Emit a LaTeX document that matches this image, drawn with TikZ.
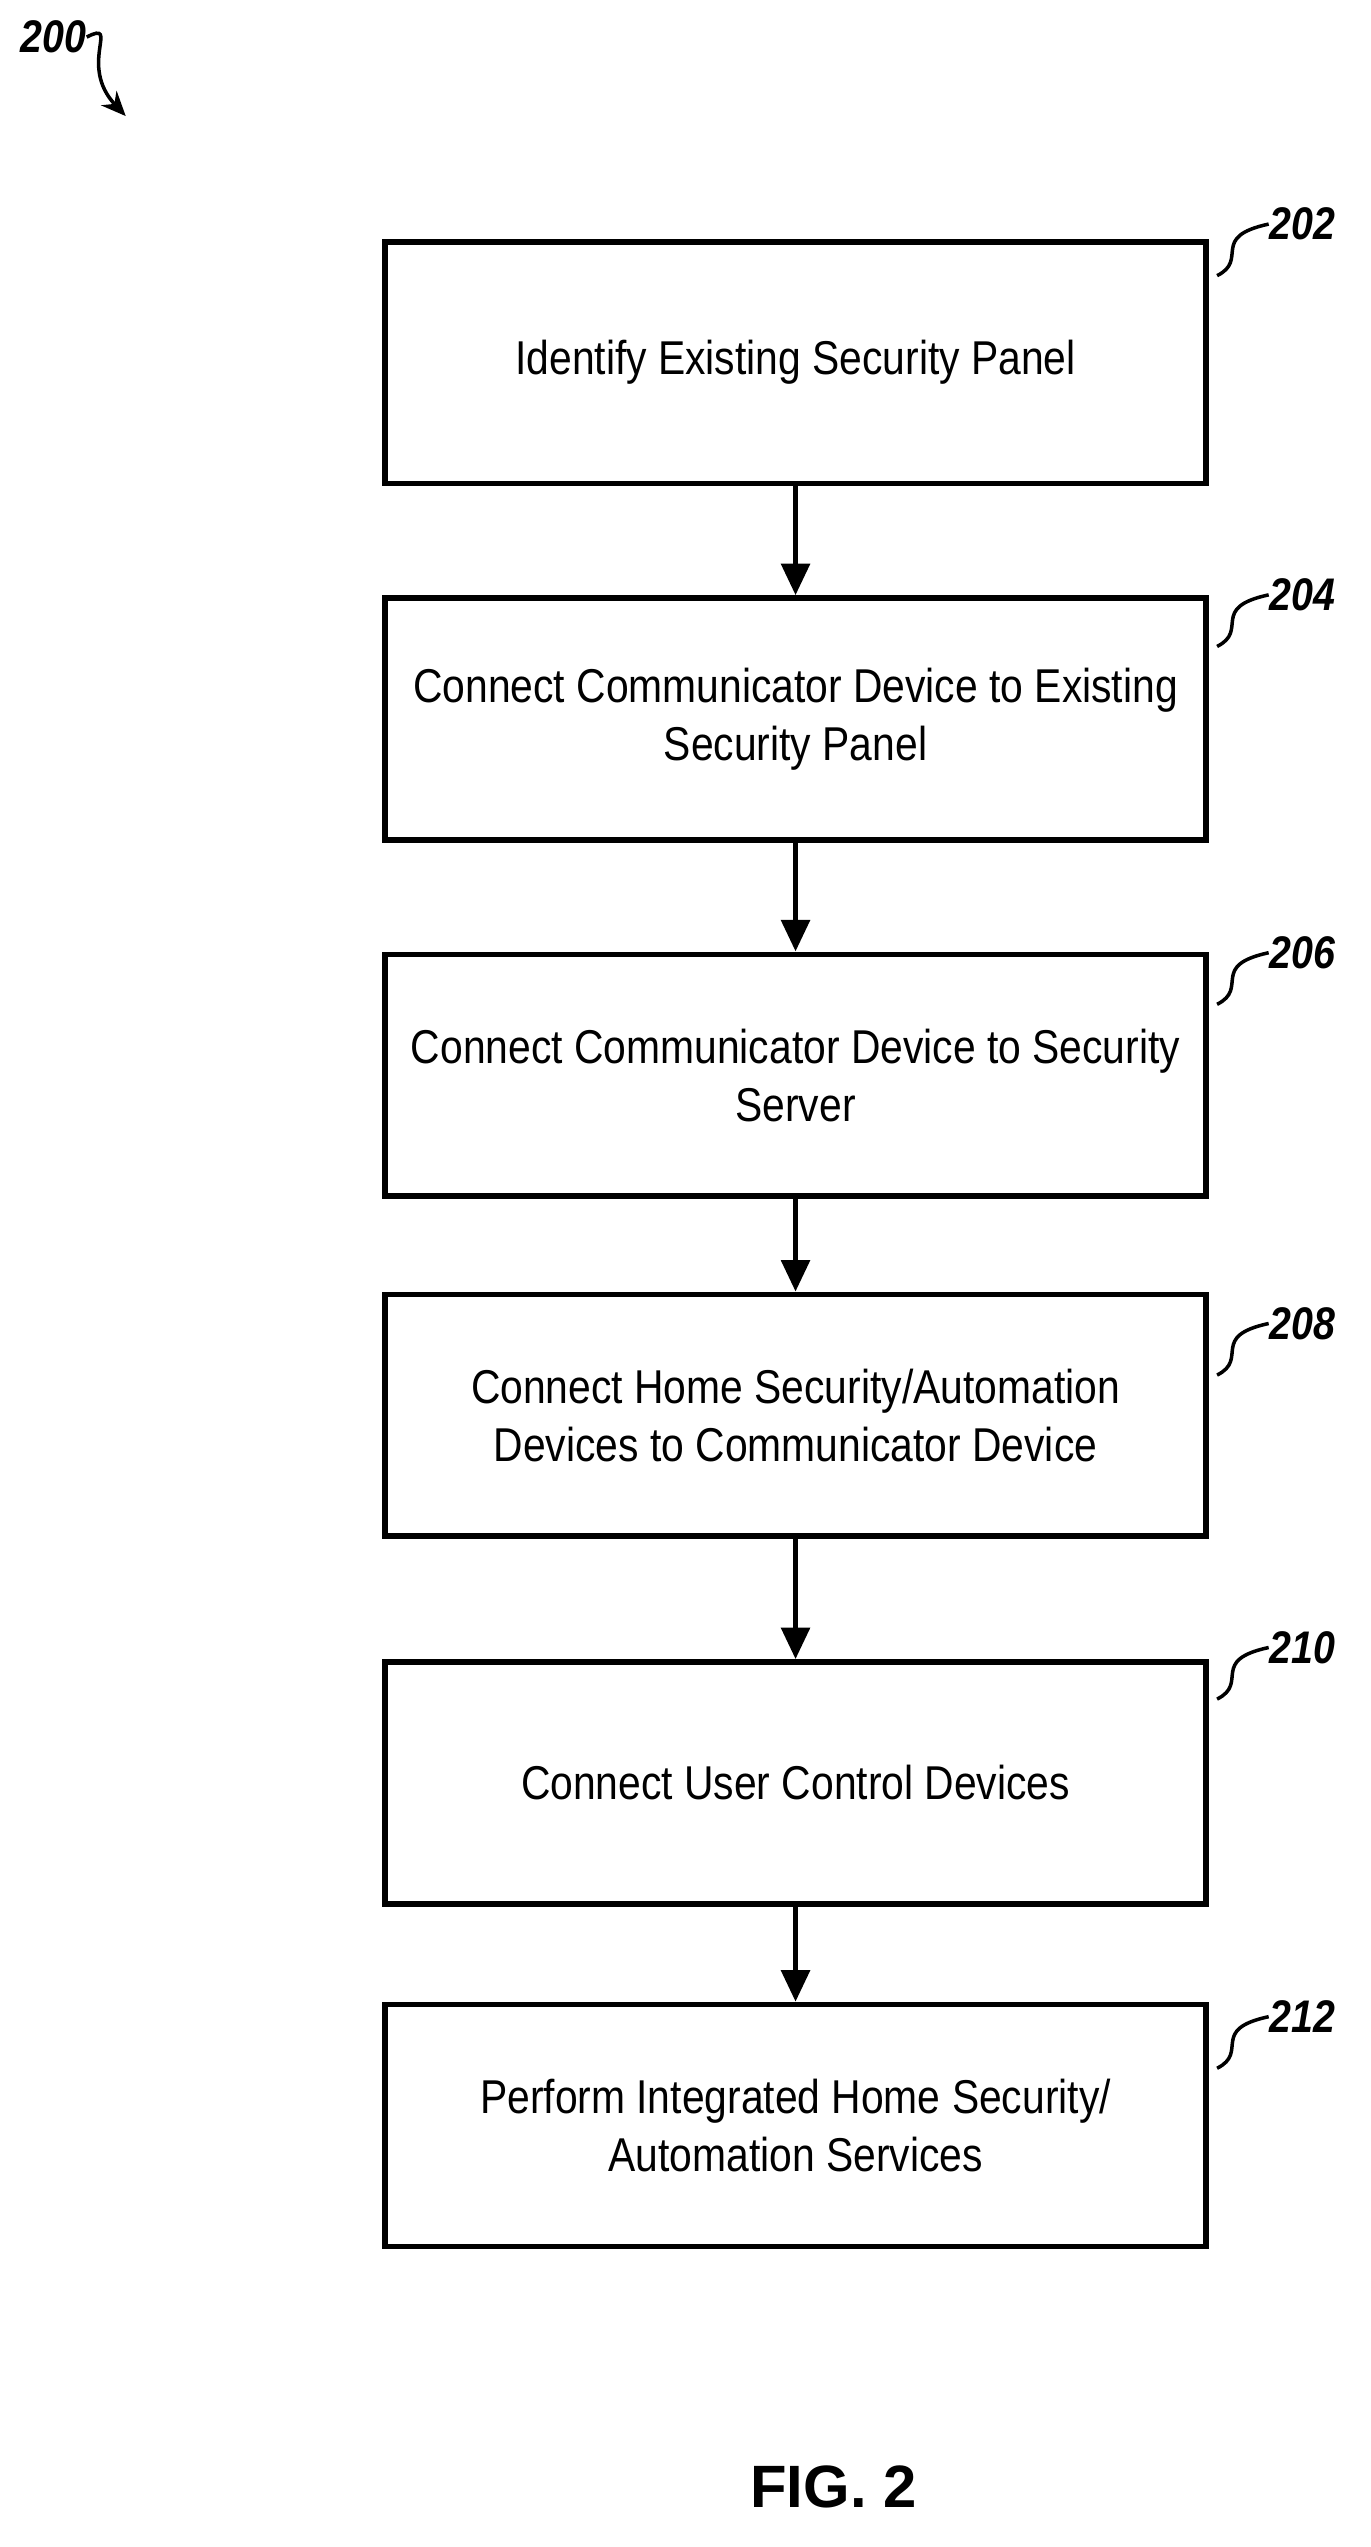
\documentclass[tikz,border=0pt]{standalone}
\usepackage{fontspec}
\setmainfont{Liberation Sans}
\usetikzlibrary{arrows.meta}
\begin{document}
\begin{tikzpicture}[x=0.01612cm,y=-0.01612cm,
  box/.style={draw,line width=1.6pt,minimum width=509*0.01612cm,minimum height=150*0.01612cm,align=center,inner sep=0pt,
     font=\addfontfeatures{FakeStretch=0.86}\fontsize{13.5}{16.5}\selectfont},
  arr/.style={-{Triangle[length=9pt,width=8pt]},line width=1.6pt},
  lbl/.style={font=\bfseries\itshape\addfontfeatures{FakeStretch=0.86}\fontsize{13}{15}\selectfont,anchor=west,inner sep=0pt},
  sq/.style={line width=1pt}]
\useasboundingbox (0,0) rectangle (850,1580);
\node[box] (b1) at (493.5,225) {Identify Existing Security Panel};
\node[box] (b2) at (493.5,446) {Connect Communicator Device to Existing\\Security Panel};
\node[box] (b3) at (493.5,667) {Connect Communicator Device to Security\\Server};
\node[box] (b4) at (493.5,878) {Connect Home Security/Automation\\Devices to Communicator Device};
\node[box] (b5) at (493.5,1106) {Connect User Control Devices};
\node[box] (b6) at (493.5,1318.5) {Perform Integrated Home Security/\\Automation Services};
\draw[arr] (b1) -- (b2);
\draw[arr] (b2) -- (b3);
\draw[arr] (b3) -- (b4);
\draw[arr] (b4) -- (b5);
\draw[arr] (b5) -- (b6);
\foreach \n/\t/\y in {l1/202/139,l2/204/369,l3/206/591,l4/208/821,l5/210/1022,l6/212/1251}{
  \node[lbl] (\n) at (787,\y) {\t};
  \coordinate (\n s) at (755,\y+32);
  \draw[sq] (\n s) .. controls (775,\y+22) and (750,\y+8) .. (\n.west);
}
\node[font=\bfseries\itshape\addfontfeatures{FakeStretch=0.86}\fontsize{13}{15}\selectfont,inner sep=0pt] (t200) at (33,23) {200};
\coordinate (a200) at (78,72);
\draw[sq,-{Stealth[length=7pt,width=6pt]}] (t200.east) .. controls (75,12) and (48,40) .. (a200);
\node[font=\bfseries\fontsize{17}{20}\selectfont] (fig) at (517,1543) {FIG. 2};
\end{tikzpicture}
\end{document}
